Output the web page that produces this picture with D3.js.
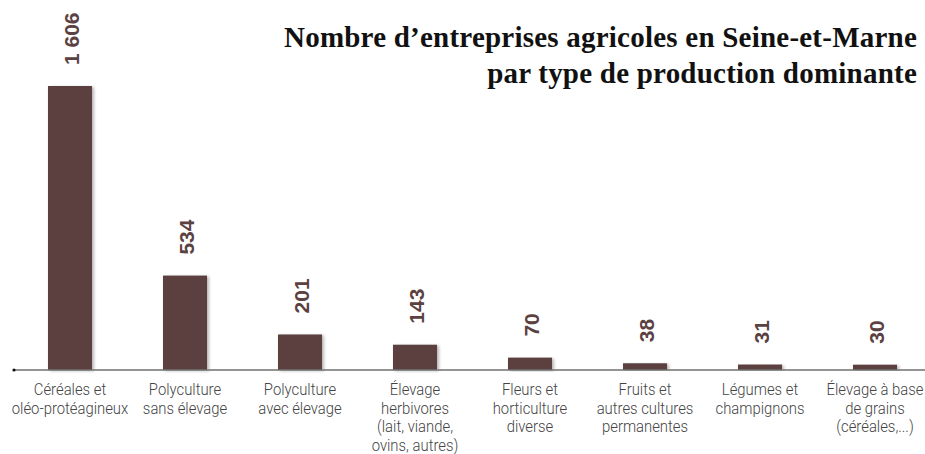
<!DOCTYPE html>
<html>
<head>
<meta charset="utf-8">
<script src="https://cdn.jsdelivr.net/npm/d3@7"></script>
<style>
  body { margin: 0; background: #fff; }
  svg { display: block; }
</style>
</head>
<body>
<div id="chart"></div>
<script>
const categories = [
    ["Céréales et", "oléo-protéagineux"],
    ["Polyculture", "sans élevage"],
    ["Polyculture", "avec élevage"],
    ["Élevage", "herbivores", "(lait, viande,", "ovins, autres)"],
    ["Fleurs et", "horticulture", "diverse"],
    ["Fruits et", "autres cultures", "permanentes"],
    ["Légumes et", "champignons"],
    ["Élevage à base", "de grains", "(céréales,...)"]
];
const values = [1606, 534, 201, 143, 70, 38, 31, 30];
const valueLabels = ["1 606", "534", "201", "143", "70", "38", "31", "30"];
const titleLines = ["Nombre d’entreprises agricoles en Seine-et-Marne", "par type de production dominante"];

const width = 925, height = 454;
const baseline = 370, yTop = 86;
const barColor = "#5b4141";

const svg = d3.select("#chart").append("svg")
    .attr("width", width)
    .attr("height", height);

// soft shadow under the bars
const shadow = svg.append("defs").append("filter")
    .attr("id", "shadow")
    .attr("x", "-20%").attr("y", "-5%")
    .attr("width", "150%").attr("height", "115%");
shadow.append("feDropShadow")
    .attr("dx", 2).attr("dy", 1)
    .attr("stdDeviation", 1.8)
    .attr("flood-color", "#000")
    .attr("flood-opacity", 0.28);

const x = d3.scaleBand()
    .domain(d3.range(values.length))
    .range([12.5, 932.5])
    .paddingInner(0.617)
    .paddingOuter(0.3085);

const y = d3.scaleLinear()
    .domain([0, d3.max(values)])
    .range([baseline, yTop]);

// title, right aligned, tightened to the reference width
const title = svg.append("g")
    .attr("font-family", "'Liberation Serif', 'DejaVu Serif', serif")
    .attr("font-weight", "bold")
    .attr("font-size", 29)
    .attr("fill", "#111")
    .attr("text-anchor", "end");
titleLines.forEach((t, i) => {
    title.append("text")
        .attr("x", 917)
        .attr("y", 47 + i * 36)
        .text(t);
});
const first = title.select("text").node();
const ls = (633 - first.getComputedTextLength()) / titleLines[0].length;
title.selectAll("text").style("letter-spacing", ls + "px");

// bars
svg.append("g")
    .selectAll("rect")
    .data(values)
    .enter().append("rect")
    .attr("x", (d, i) => x(i))
    .attr("y", d => y(d))
    .attr("width", x.bandwidth())
    .attr("height", d => baseline - y(d))
    .attr("fill", barColor)
    .attr("filter", "url(#shadow)");

// axis line
const axis = svg.append("g")
    .attr("transform", `translate(0,${baseline})`)
    .call(d3.axisBottom(x).tickSize(0).tickFormat(""));
axis.select(".domain")
    .attr("d", "M14,0H925")
    .attr("stroke", "#707070")
    .attr("stroke-width", 1.5);
axis.append("circle")
    .attr("cx", 14).attr("cy", 0).attr("r", 1.6)
    .attr("fill", "#111");

// category labels (narrowed a bit, the original face is condensed)
const cat = svg.append("g")
    .attr("font-family", "Roboto, 'Liberation Sans', sans-serif")
    .attr("font-weight", 300)
    .attr("font-size", 16.5)
    .attr("fill", "#444")
    .attr("text-anchor", "middle");
categories.forEach((lines, i) => {
    const t = cat.append("text")
        .attr("transform", `translate(${x(i) + x.bandwidth() / 2},395) scale(0.9,1)`);
    lines.forEach((l, j) => {
        t.append("tspan")
            .attr("x", 0)
            .attr("y", j * 18.6)
            .text(l);
    });
});

// value labels, rotated
svg.append("g")
    .selectAll("text")
    .data(values)
    .enter().append("text")
    .attr("transform", (d, i) => `translate(${x(i) + x.bandwidth() / 2 + 1},${y(d) - 21}) rotate(-90)`)
    .attr("dy", "0.36em")
    .attr("text-anchor", "start")
    .attr("font-family", "'Liberation Sans', Arial, sans-serif")
    .attr("font-weight", "bold")
    .attr("font-size", 21)
    .attr("fill", barColor)
    .text((d, i) => valueLabels[i]);
</script>
</body>
</html>
